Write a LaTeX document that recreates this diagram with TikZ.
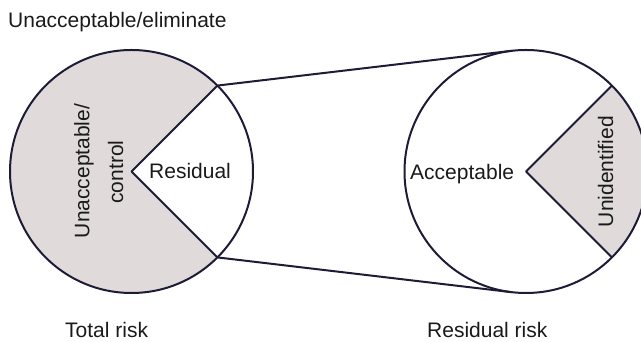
\documentclass[tikz,border=0pt]{standalone}
\usepackage{fontspec}
\setmainfont{Liberation Sans}
\usetikzlibrary{calc}
\begin{document}
\definecolor{edge}{HTML}{1E1B36}
\definecolor{sectorfill}{HTML}{E1DADB}
\definecolor{ink}{HTML}{1A1A1A}
\begin{tikzpicture}[x=1pt,y=1pt,
  outline/.style={draw=edge,line width=2pt,line join=round},
  lbl/.style={inner sep=0pt,text=ink,font=\fontsize{21}{25}\selectfont},
  vlbl/.style={lbl,rotate=90,anchor=base}]
\useasboundingbox (0,0) rectangle (641,342);
\def\rr{121.5}
% circle centres and the spoke ends at +-45 degrees
\coordinate (lc) at (131.5,170.5);
\coordinate (rc) at (526,170.5);
\coordinate (lu) at ($(lc)+(45:\rr)$);
\coordinate (ld) at ($(lc)+(-45:\rr)$);
\coordinate (ru) at ($(rc)+(45:\rr)$);
\coordinate (rd) at ($(rc)+(-45:\rr)$);
% tangent points on the right circle
\coordinate (tu) at (511.75,291.2);
\coordinate (td) at (511.75,49.8);

% total risk: filled sector from 45 to 315 degrees
\fill[sectorfill] (lc) -- (lu) arc[start angle=45,end angle=315,radius=\rr] -- cycle;
\draw[outline] (lc) circle[radius=\rr];
\draw[outline] (lu) -- (lc) -- (ld);

% residual risk: filled sector from -45 to 45 degrees
\fill[sectorfill] (rc) -- (rd) arc[start angle=-45,end angle=45,radius=\rr] -- cycle;
\draw[outline] (rc) circle[radius=\rr];
\draw[outline] (ru) -- (rc) -- (rd);

% connecting tangents
\draw[outline] (lu) -- (tu);
\draw[outline] (ld) -- (td);

% labels
\node[lbl,anchor=base west] (elim) at (8,314) {Unacceptable/eliminate};
\node[vlbl] (ctrl1) at (89.3,171) {Unacceptable/};
\node[vlbl] (ctrl2) at (123,170) {control};
\node[lbl,anchor=base west] (resid) at (149,163.7) {Residual};
\node[lbl,anchor=base west] (accept) at (410,162.7) {Acceptable};
\node[vlbl] (unid) at (613,170.3) {Unidentified};
\node[lbl,anchor=base west] (total) at (65,4) {Total risk};
\node[lbl,anchor=base west] (resrisk) at (427,4) {Residual risk};
\end{tikzpicture}
\end{document}
